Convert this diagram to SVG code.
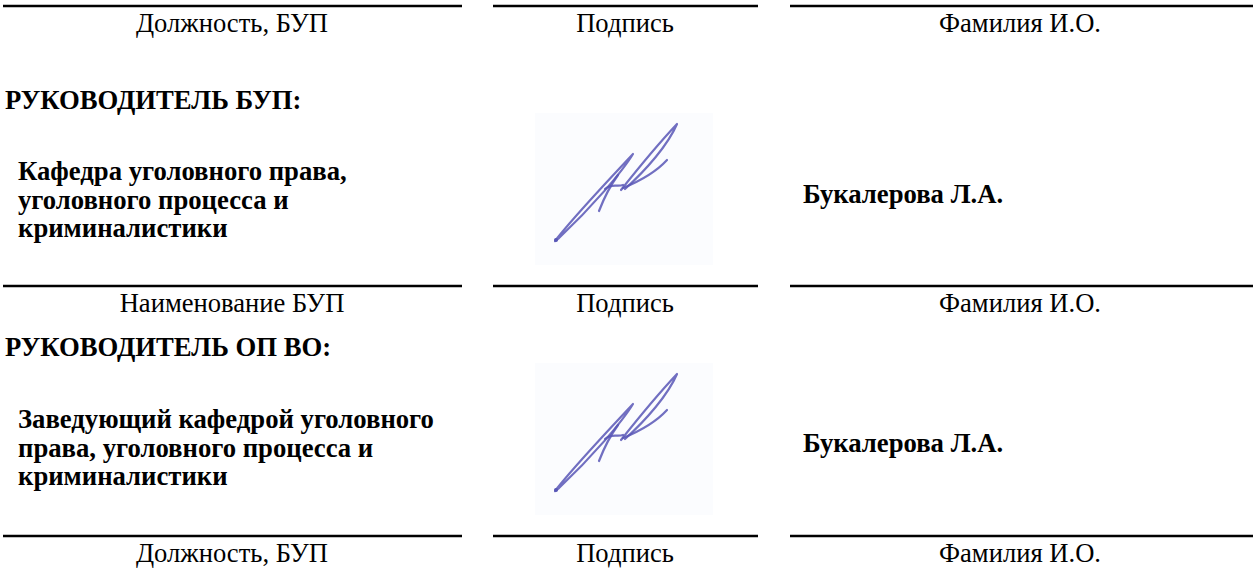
<svg xmlns="http://www.w3.org/2000/svg" width="1253" height="569" viewBox="0 0 1253 569">
<style>
.rule{stroke:#000;stroke-width:2.5;fill:none}
.cap{font-family:"Liberation Serif","Times New Roman",serif;font-size:26.6px;fill:#000;text-anchor:middle}
.b{font-family:"Liberation Serif","Times New Roman",serif;font-size:26.7px;font-weight:bold;fill:#000}
.sig{fill:none;stroke:#5856b6;stroke-width:2.2;stroke-linecap:round;stroke-linejoin:round;opacity:0.85}
</style>
<defs>
<g id="signature">
<rect x="535" y="113" width="178" height="152" fill="#fbfcfe"/>
<path class="sig" d="M555,241 C568,224 600,189 633,154 C622,172 592,207 559,238 Z"/>
<path class="sig" d="M599,211 C604,198 610,186 618,175"/>
<path class="sig" d="M605,189 C611,183 617,187 623,185"/>
<path class="sig" d="M621,190 C640,166 661,141 677,124 C668,145 646,170 625,189"/>
<path class="sig" d="M623,188 C640,181 656,172 667,160"/>
<circle cx="556" cy="240" r="2" fill="#5856b6"/>
</g>
</defs>
<g id="connectors">
<line class="rule" x1="3" y1="6" x2="462" y2="6"/>
<line class="rule" x1="493" y1="6" x2="758" y2="6"/>
<line class="rule" x1="790" y1="6" x2="1253" y2="6"/>
<line class="rule" x1="3" y1="286" x2="462" y2="286"/>
<line class="rule" x1="493" y1="286" x2="758" y2="286"/>
<line class="rule" x1="790" y1="286" x2="1253" y2="286"/>
<line class="rule" x1="3" y1="536" x2="462" y2="536"/>
<line class="rule" x1="493" y1="536" x2="758" y2="536"/>
<line class="rule" x1="790" y1="536" x2="1253" y2="536"/>
</g>
<g id="row-top">
<text class="cap" x="232" y="32">Должность, БУП</text>
<text class="cap" x="625" y="32">Подпись</text>
<text class="cap" x="1020" y="32">Фамилия И.О.</text>
</g>
<g id="block1">
<text class="b" x="5" y="109">РУКОВОДИТЕЛЬ БУП:</text>
<text class="b" x="18" y="180">Кафедра уголовного права,</text>
<text class="b" x="18" y="208.5">уголовного процесса и</text>
<text class="b" x="18" y="237">криминалистики</text>
<use href="#signature"/>
<text class="b" x="803" y="203">Букалерова Л.А.</text>
</g>
<g id="row-middle">
<text class="cap" x="232" y="312">Наименование БУП</text>
<text class="cap" x="625" y="312">Подпись</text>
<text class="cap" x="1020" y="312">Фамилия И.О.</text>
</g>
<g id="block2">
<text class="b" x="5" y="356">РУКОВОДИТЕЛЬ ОП ВО:</text>
<text class="b" x="18" y="428">Заведующий кафедрой уголовного</text>
<text class="b" x="18" y="456.5">права, уголовного процесса и</text>
<text class="b" x="18" y="485">криминалистики</text>
<use href="#signature" transform="translate(0,250)"/>
<text class="b" x="803" y="452">Букалерова Л.А.</text>
</g>
<g id="row-bottom">
<text class="cap" x="232" y="562">Должность, БУП</text>
<text class="cap" x="625" y="562">Подпись</text>
<text class="cap" x="1020" y="562">Фамилия И.О.</text>
</g>
</svg>
